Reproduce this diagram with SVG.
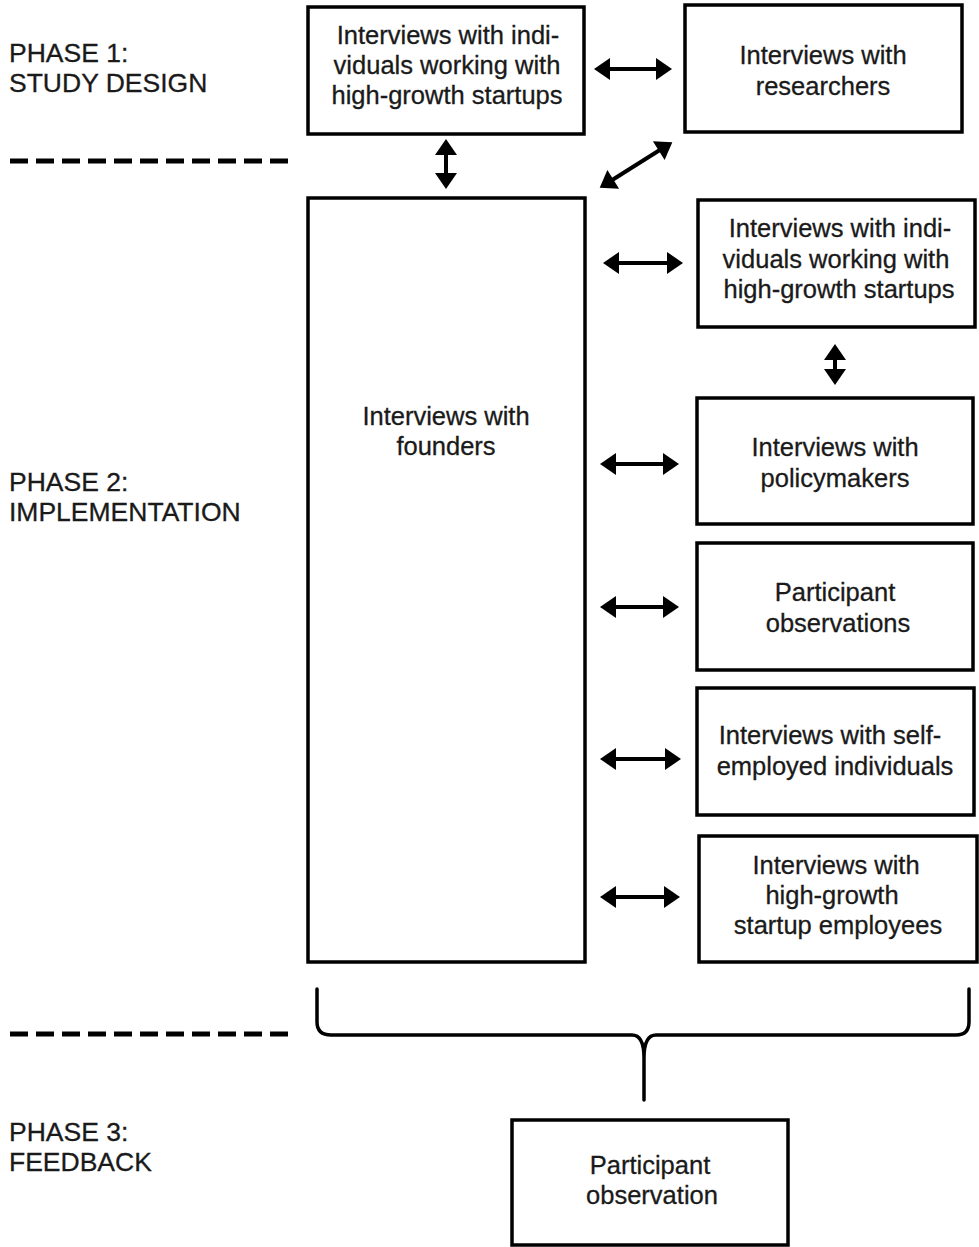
<svg xmlns="http://www.w3.org/2000/svg" width="979" height="1247" viewBox="0 0 979 1247">
  <style>
    .box { fill: #ffffff; stroke: #000000; stroke-width: 3.5; }
    .t { font-family: "Liberation Sans", Arial, sans-serif; font-size: 25.5px; fill: #1a1a1a; stroke: #1a1a1a; stroke-width: 0.3; text-anchor: middle; }
    .lbl { font-family: "Liberation Sans", Arial, sans-serif; font-size: 26.5px; fill: #1a1a1a; stroke: #1a1a1a; stroke-width: 0.3; }
    .arr { stroke: #000000; stroke-width: 4; fill: none; marker-start: url(#ah); marker-end: url(#ah); }
    .dash { stroke: #000000; stroke-width: 5; stroke-dasharray: 18 8; fill: none; }
    .brace { stroke: #000000; stroke-width: 3.5; fill: none; stroke-linecap: round; }
  </style>
  <defs>
    <marker id="ah" markerUnits="userSpaceOnUse" viewBox="-6 -12 18 24" refX="0" refY="0" markerWidth="18" markerHeight="24" orient="auto-start-reverse">
      <path d="M-5,-11 L11,0 L-5,11 Z" fill="#000000"/>
    </marker>
  </defs>
  <rect width="979" height="1247" fill="#ffffff"/>

  <g id="phase-labels">
    <text class="lbl" x="9" y="62">PHASE 1:</text>
    <text class="lbl" x="9" y="92">STUDY DESIGN</text>
    <text class="lbl" x="9" y="491">PHASE 2:</text>
    <text class="lbl" x="9" y="521">IMPLEMENTATION</text>
    <text class="lbl" x="9" y="1141">PHASE 3:</text>
    <text class="lbl" x="9" y="1171">FEEDBACK</text>
  </g>

  <g id="separators">
    <line class="dash" x1="10" y1="161" x2="290" y2="161"/>
    <line class="dash" x1="10" y1="1034" x2="290" y2="1034"/>
  </g>

  <g id="n-individuals-1">
    <rect class="box" x="308" y="7" width="276" height="127"/>
    <text class="t" x="448" y="44">Interviews with indi-</text>
    <text class="t" x="447" y="74">viduals working with</text>
    <text class="t" x="447" y="104">high-growth startups</text>
  </g>

  <g id="n-researchers">
    <rect class="box" x="685" y="5" width="277" height="127"/>
    <text class="t" x="823" y="64">Interviews with</text>
    <text class="t" x="823" y="95">researchers</text>
  </g>

  <g id="n-founders">
    <rect class="box" x="308" y="198" width="277" height="764"/>
    <text class="t" x="446" y="425">Interviews with</text>
    <text class="t" x="446" y="455">founders</text>
  </g>

  <g id="n-individuals-2">
    <rect class="box" x="698" y="200" width="277" height="127"/>
    <text class="t" x="840" y="237">Interviews with indi-</text>
    <text class="t" x="836" y="268">viduals working with</text>
    <text class="t" x="839" y="298">high-growth startups</text>
  </g>

  <g id="n-policymakers">
    <rect class="box" x="697" y="398" width="276" height="126"/>
    <text class="t" x="835" y="456">Interviews with</text>
    <text class="t" x="835" y="487">policymakers</text>
  </g>

  <g id="n-participant-observations">
    <rect class="box" x="697" y="543" width="276" height="127"/>
    <text class="t" x="835" y="601">Participant</text>
    <text class="t" x="838" y="632">observations</text>
  </g>

  <g id="n-self-employed">
    <rect class="box" x="697" y="688" width="277" height="127"/>
    <text class="t" x="830" y="744">Interviews with self-</text>
    <text class="t" x="835" y="775">employed individuals</text>
  </g>

  <g id="n-employees">
    <rect class="box" x="699" y="836" width="278" height="126"/>
    <text class="t" x="836" y="874">Interviews with</text>
    <text class="t" x="832" y="904">high-growth</text>
    <text class="t" x="838" y="934">startup employees</text>
  </g>

  <g id="n-participant-observation">
    <rect class="box" x="512" y="1120" width="276" height="125"/>
    <text class="t" x="650" y="1174">Participant</text>
    <text class="t" x="652" y="1204">observation</text>
  </g>

  <g id="connectors">
    <line class="arr" x1="605" y1="69" x2="661" y2="69"/>
    <line class="arr" x1="446" y1="150" x2="446" y2="178"/>
    <line class="arr" x1="609" y1="182" x2="663" y2="148"/>
    <line class="arr" x1="614" y1="263" x2="672" y2="263"/>
    <line class="arr" x1="835" y1="355" x2="835" y2="374"/>
    <line class="arr" x1="611" y1="464" x2="668" y2="464"/>
    <line class="arr" x1="611" y1="607" x2="668" y2="607"/>
    <line class="arr" x1="611" y1="759" x2="670" y2="759"/>
    <line class="arr" x1="611" y1="897" x2="669" y2="897"/>
    <path class="brace" d="M317,989 L317,1022 Q317,1035 331,1035 L632,1035 Q644,1035 644,1058 L644,1100 M644,1058 Q644,1035 656,1035 L956,1035 Q969,1035 969,1022 L969,989"/>
  </g>
</svg>
